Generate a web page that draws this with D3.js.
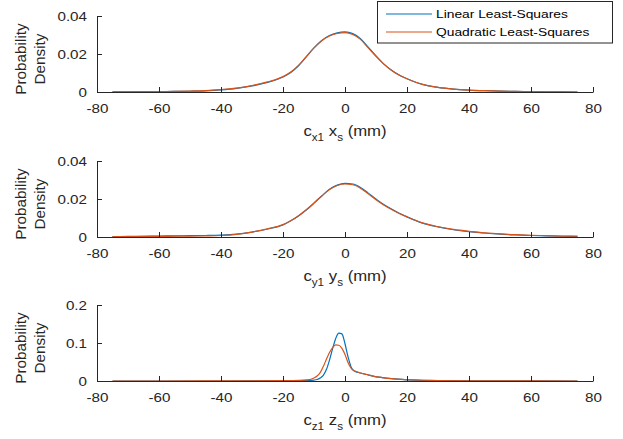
<!DOCTYPE html>
<html><head><meta charset="utf-8">
<script src="https://cdn.jsdelivr.net/npm/d3@7"></script>
<style>body{margin:0;background:#fff} svg{display:block}</style>
</head><body>
<script>
// ---------- data ----------
const xTickValues = [-80, -60, -40, -20, 0, 20, 40, 60, 80];
const seriesNames = ["Linear Least-Squares", "Quadratic Least-Squares"];
const seriesColors = ["#0072BD", "#D95319"];

const gridXY = [-75,-70,-65,-60,-55,-50,-45,-40,-35,-30,-25,-20,-17.5,-15,-12.5,-10,-7.5,-5,-2.5,0,2.5,5,7.5,10,12.5,15,17.5,20,25,30,35,40,45,50,55,60,65,70,75];

const xsLinear = [0.0001,0.0001,0.0001,0.0002,0.0003,0.0004,0.0006,0.0011,0.0019,0.0032,0.0051,0.0079,0.0103,0.0138,0.0185,0.0232,0.0271,0.0297,0.0311,0.0316,0.0307,0.0281,0.0236,0.0190,0.0148,0.0115,0.0089,0.0070,0.0040,0.0024,0.0015,0.0010,0.0007,0.0005,0.0003,0.0002,0.0001,0.0001,0.0000];
const xsQuadratic = [0.0001,0.0001,0.0002,0.0002,0.0003,0.0005,0.0007,0.0012,0.0020,0.0034,0.0053,0.0081,0.0105,0.0140,0.0186,0.0232,0.0270,0.0295,0.0308,0.0312,0.0303,0.0277,0.0232,0.0188,0.0147,0.0114,0.0088,0.0070,0.0040,0.0024,0.0015,0.0010,0.0007,0.0005,0.0003,0.0002,0.0001,0.0001,0.0000];

const ysLinear = [0.0002,0.0003,0.0004,0.0005,0.0006,0.0007,0.0008,0.0010,0.0015,0.0026,0.0042,0.0064,0.0085,0.0111,0.0142,0.0178,0.0216,0.0251,0.0273,0.0282,0.0279,0.0261,0.0231,0.0200,0.0171,0.0147,0.0125,0.0106,0.0073,0.0053,0.0038,0.0028,0.0021,0.0015,0.0011,0.0008,0.0006,0.0004,0.0003];
const ysQuadratic = [0.0002,0.0002,0.0003,0.0003,0.0004,0.0005,0.0006,0.0008,0.0014,0.0026,0.0043,0.0065,0.0086,0.0112,0.0143,0.0179,0.0216,0.0250,0.0271,0.0279,0.0275,0.0257,0.0227,0.0196,0.0168,0.0145,0.0124,0.0106,0.0074,0.0054,0.0040,0.0030,0.0022,0.0016,0.0012,0.0009,0.0007,0.0005,0.0004];

const gridZ = [-75,-60,-45,-30,-20,-15,-12,-10,-9,-8,-7,-6,-5,-4,-3,-2,-1,0,1,2,3,4,5,7,9,12,15,20,25,30,40,50,60,75];
const zsLinear = [0,0,0,0.0002,0.0005,0.001,0.0015,0.0025,0.004,0.008,0.015,0.03,0.055,0.085,0.112,0.126,0.124,0.098,0.063,0.036,0.026,0.023,0.021,0.017,0.013,0.009,0.006,0.003,0.0015,0.001,0.0004,0.0002,0.0001,0];
const zsQuadratic = [0,0,0.0001,0.0003,0.0008,0.0015,0.003,0.008,0.013,0.022,0.038,0.057,0.075,0.088,0.095,0.094,0.086,0.07,0.048,0.033,0.027,0.024,0.021,0.017,0.013,0.009,0.006,0.0035,0.002,0.0012,0.0005,0.0002,0.0001,0];

const yTicksSmall = [0, 0.02, 0.04];
const yTickLabelsSmall = ["0", "0.02", "0.04"];
const yTicksLarge = [0, 0.1, 0.2];
const yTickLabelsLarge = ["0", "0.1", "0.2"];

const panels = [
  {grid: gridXY, series: [xsLinear, xsQuadratic], yMax: 0.04, ticks: yTicksSmall, tickLabels: yTickLabelsSmall, sub1: "x1", main2: "x", top: 16, bottom: 92},
  {grid: gridXY, series: [ysLinear, ysQuadratic], yMax: 0.04, ticks: yTicksSmall, tickLabels: yTickLabelsSmall, sub1: "y1", main2: "y", top: 161, bottom: 237},
  {grid: gridZ, series: [zsLinear, zsQuadratic], yMax: 0.2, ticks: yTicksLarge, tickLabels: yTickLabelsLarge, sub1: "z1", main2: "z", top: 305, bottom: 381}
];

// ---------- drawing ----------
const W = 623, H = 439;
const axisColor = "#262626";
const SX = 1.17; // horizontal font widening
const fontFam = "'Liberation Sans', Arial, Helvetica, sans-serif";

const svg = d3.select("body").append("svg").attr("width", W).attr("height", H)
  .style("font-family", fontFam);

const x = d3.scaleLinear().domain([-80, 80]).range([97, 593]);

panels.forEach((p, pi) => {
  const y = d3.scaleLinear().domain([0, p.yMax]).range([p.bottom, p.top]);
  const g = svg.append("g");

  // lines
  const line = d3.line()
    .x(d => x(d[0])).y(d => y(d[1]))
    .curve(d3.curveMonotoneX);
  p.series.forEach((vals, si) => {
    g.append("path")
      .datum(p.grid.map((gx, i) => [gx, vals[i]]))
      .attr("fill", "none")
      .attr("stroke", seriesColors[si])
      .attr("stroke-width", 1.2)
      .attr("d", line);
  });

  // x axis
  const xa = g.append("g").attr("transform", `translate(0,${p.bottom})`)
    .call(d3.axisBottom(x).tickValues(xTickValues).tickSizeInner(-5).tickSizeOuter(0).tickFormat(d3.format("d")));
  xa.select(".domain").attr("stroke", axisColor);
  xa.selectAll(".tick line").attr("stroke", axisColor);
  xa.selectAll(".tick text").attr("fill", axisColor).attr("font-size", 13)
    .attr("font-family", fontFam)
    .attr("y", 21.5).attr("dy", 0)
    .attr("transform", `scale(${SX},1)`)
    .text(d => d < 0 ? "-" + Math.abs(d) : String(d));

  // y axis
  const ya = g.append("g").attr("transform", `translate(${x(-80)},0)`)
    .call(d3.axisLeft(y).tickValues(p.ticks).tickSizeInner(-5).tickSizeOuter(0)
      .tickFormat((d, i) => p.tickLabels[i]));
  ya.select(".domain").attr("stroke", axisColor);
  ya.selectAll(".tick line").attr("stroke", axisColor);
  ya.selectAll(".tick text").attr("fill", axisColor).attr("font-size", 13)
    .attr("font-family", fontFam)
    .attr("x", -10 / SX).attr("dy", "0.34em")
    .attr("transform", `scale(${SX},1)`);

  // y label
  const yl = g.append("g").attr("transform", `translate(0,${(p.top + p.bottom) / 2 + 5}) rotate(-90)`);
  yl.append("text").attr("x", 0).attr("y", 26).attr("text-anchor", "middle")
    .attr("font-size", 14.3).attr("fill", axisColor)
    .attr("transform", "scale(1.07,1)").text("Probability");
  yl.append("text").attr("x", 0).attr("y", 45.5).attr("text-anchor", "middle")
    .attr("font-size", 14.3).attr("fill", axisColor)
    .attr("transform", "scale(1.07,1)").text("Density");

  // x label
  const xl = g.append("g").attr("transform", `translate(${x(0)},${p.bottom + 44})`)
    .append("text").attr("text-anchor", "middle").attr("font-size", 14.3)
    .attr("fill", axisColor).attr("transform", `scale(${SX},1)`);
  xl.append("tspan").text("c");
  xl.append("tspan").attr("dy", 4.5).attr("font-size", 10).text(p.sub1);
  xl.append("tspan").attr("dy", -4.5).text(" " + p.main2);
  xl.append("tspan").attr("dy", 4.5).attr("font-size", 10).text("s");
  xl.append("tspan").attr("dy", -4.5).text(" (mm)");
});

// legend
const lg = svg.append("g");
lg.append("rect").attr("x", 377.5).attr("y", 1.5).attr("width", 235).attr("height", 41.5)
  .attr("fill", "#fff").attr("stroke", axisColor).attr("stroke-width", 1);
seriesNames.forEach((name, i) => {
  const ly = 14 + i * 18;
  lg.append("line").attr("x1", 386).attr("x2", 432).attr("y1", ly).attr("y2", ly)
    .attr("stroke", seriesColors[i]).attr("stroke-width", 1.2);
  lg.append("g").attr("transform", `translate(436,${ly})`)
    .append("text").attr("dy", "0.35em").attr("font-size", 11.8).attr("fill", "#000")
    .attr("transform", `scale(${SX},1)`).text(name);
});
</script>
</body></html>
